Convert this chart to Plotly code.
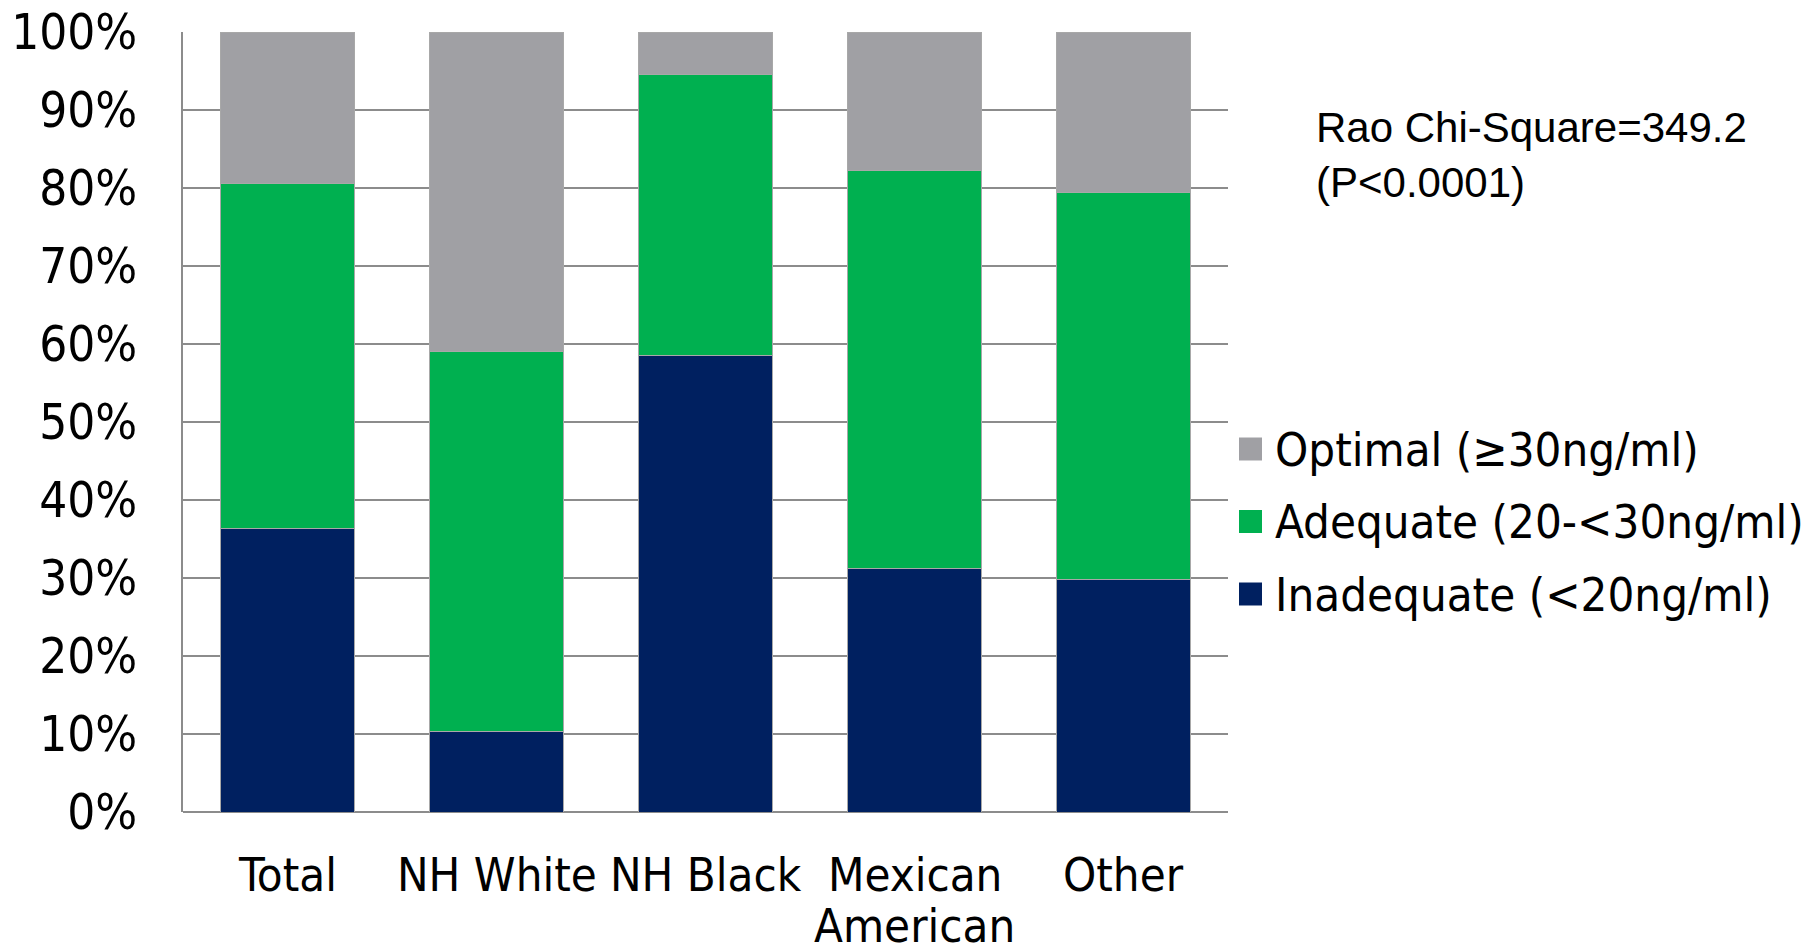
import plotly.graph_objects as go

# Vitamin D status by race/ethnicity (share of each group)
categories = ["Total", "NH White", "NH Black", "Mexican American", "Other"]
category_label_lines = [["Total"], ["NH White"], ["NH Black"], ["Mexican", "American"], ["Other"]]
inadequate = [0.364, 0.103, 0.585, 0.312, 0.298]
adequate = [0.442, 0.488, 0.360, 0.511, 0.496]
optimal = [0.194, 0.409, 0.055, 0.177, 0.206]

series_names = ["Inadequate (<20ng/ml)", "Adequate (20-<30ng/ml)", "Optimal (≥30ng/ml)"]
series_values = [inadequate, adequate, optimal]
series_colors = ["#002060", "#00B050", "#A0A0A4"]

y_ticks = [i / 10 for i in range(11)]

W, H = 1816, 952
ML, MR, MT, MB = 183, 588, 32, 140
PW, PH = W - ML - MR, H - MT - MB

label_font = dict(family="DejaVu Sans Condensed, DejaVu Sans, sans-serif", size=47, color="#000000")


def paper_y(px):
    """Convert a pixel row of the page into a paper y-coordinate."""
    return (MT + PH - px) / PH


fig = go.Figure()
for name, vals, col in zip(series_names, series_values, series_colors):
    fig.add_trace(go.Bar(
        x=categories, y=vals, name=name,
        marker=dict(color=col, line=dict(color="#a8a8a8", width=1)),
        showlegend=False,
    ))

# Category labels under the axis, with tight line spacing for two-line names
for cat, lines in zip(categories, category_label_lines):
    for j, line in enumerate(lines):
        fig.add_annotation(xref="x", yref="paper", x=cat, y=paper_y(874 + j * 51),
                           xanchor="center", yanchor="middle", showarrow=False,
                           text=line, font=label_font)

# Legend drawn as large swatches with text labels, top entry = last series
for i, (name, col) in enumerate(reversed(list(zip(series_names, series_colors)))):
    cy = 449 + i * 72.5
    yc = paper_y(cy)
    half = 11.5 / PH
    fig.add_shape(type="rect", xref="paper", yref="paper",
                  x0=(1239 - ML) / PW, x1=(1262 - ML) / PW, y0=yc - half, y1=yc + half,
                  fillcolor=col, line=dict(width=0))
    fig.add_annotation(xref="paper", yref="paper", x=(1273 - ML) / PW, y=yc,
                       xanchor="left", yanchor="middle", showarrow=False,
                       text=name, font=label_font)

fig.add_annotation(xref="paper", yref="paper", x=(1314 - ML) / PW, y=paper_y(102),
                   xanchor="left", yanchor="top", showarrow=False, align="left",
                   text="Rao Chi-Square=349.2<br>(P<0.0001)",
                   font=dict(family="Liberation Sans, Arial, sans-serif", size=42, color="#000000"))

fig.update_layout(
    width=W, height=H,
    margin=dict(l=ML, r=MR, t=MT, b=MB, pad=0, autoexpand=False),
    barmode="stack", bargap=0.36,
    plot_bgcolor="#ffffff", paper_bgcolor="#ffffff",
    showlegend=False,
    font=label_font,
)
fig.update_xaxes(
    showgrid=False, showline=False, zeroline=False, automargin=False,
    showticklabels=False, ticks="",
)
fig.update_yaxes(
    range=[0, 1], tickvals=y_ticks, tickformat=".0%", automargin=False,
    showgrid=True, gridcolor="#8c8c8c", gridwidth=2,
    showline=True, linecolor="#8c8c8c", linewidth=2,
    zeroline=True, zerolinecolor="#8c8c8c", zerolinewidth=2,
    tickfont=dict(label_font, size=49), ticks="", ticklabelstandoff=34,
)

fig.write_html("out.html")
